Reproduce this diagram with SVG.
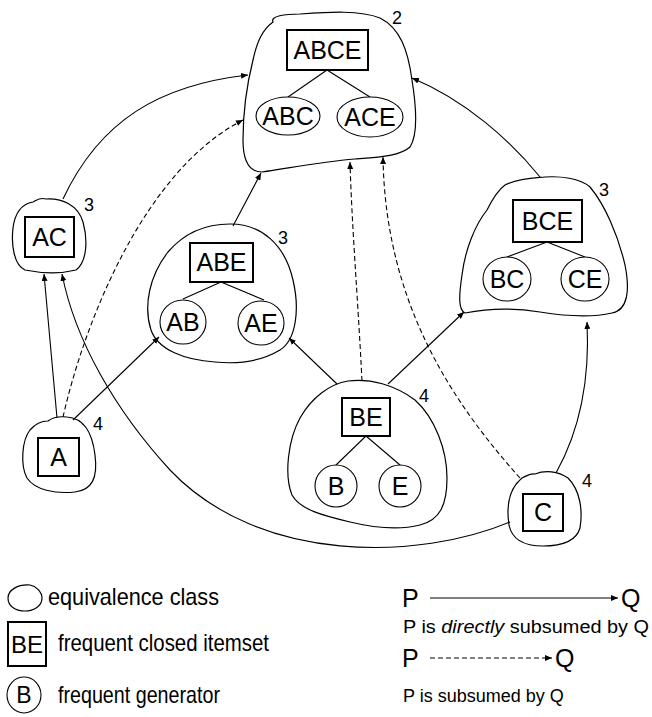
<svg xmlns="http://www.w3.org/2000/svg" width="652" height="717" viewBox="0 0 652 717">
<defs>
<marker id="ah" markerUnits="userSpaceOnUse" markerWidth="8" markerHeight="6" refX="7" refY="3" orient="auto">
<path d="M0,0 L7,3 L0,6 Z" fill="#000"/>
</marker>
<style>
.blob{fill:none;stroke:#000;stroke-width:1.2}
.box{fill:#fff;stroke:#000;stroke-width:2}
.gen{fill:#fff;stroke:#000;stroke-width:1.1}
.tree{stroke:#000;stroke-width:1.1;fill:none}
.lbl{font-family:"Liberation Sans",Arial,sans-serif;font-size:25px;text-anchor:middle;fill:#000}
.cnt{font-family:"Liberation Sans",Arial,sans-serif;font-size:18px;fill:#000}
.leg{font-family:"Liberation Sans",Arial,sans-serif;font-size:24px;fill:#000}
.small{font-family:"Liberation Sans",Arial,sans-serif;font-size:18px;fill:#000}
.c{fill:none;stroke:#000;stroke-width:1.1;marker-end:url(#ah)}
.d{stroke-dasharray:5,3}
</style>
</defs>
<rect width="652" height="717" fill="#fff"/>

<g id="connectors">
<path class="c" d="M63,199 C100,120 160,85 248,75"/>
<path class="c d" d="M63,417 C85,320 145,170 243,120"/>
<path class="c" d="M57,418 L44,274"/>
<path class="c" d="M510,522 C420,560 260,565 170,470 C115,410 75,340 62,274"/>
<path class="c" d="M73,420 L159,337"/>
<path class="c" d="M233,226 L261,173"/>
<path class="c" d="M337,384 L289,338"/>
<path class="c d" d="M362,381 C358,300 352,230 350,162"/>
<path class="c" d="M388,384 L464,312"/>
<path class="c d" d="M520,478 C450,400 385,300 383,157"/>
<path class="c" d="M556,473 C580,430 590,380 587,322"/>
<path class="c" d="M540,177 C510,140 465,100 412,78"/>
</g>

<g id="ABCE">
<path class="blob" d="M273,22 C270,16 285,14 300,14 C330,12 360,10 380,18 C400,28 408,50 412,80 C416,105 418,135 410,147 C400,156 380,157 355,159 C320,162 290,168 262,172 C248,172 243,160 243,140 C243,110 248,80 253,60 C257,42 262,30 273,22 Z"/>
<line class="tree" x1="327" y1="70" x2="288" y2="97"/>
<line class="tree" x1="327" y1="70" x2="370" y2="97"/>
<rect class="box" x="287" y="30" width="81" height="40"/>
<text class="lbl" x="327.5" y="59">ABCE</text>
<ellipse class="gen" cx="288" cy="116" rx="32" ry="19"/>
<text class="lbl" x="288" y="125">ABC</text>
<ellipse class="gen" cx="370" cy="117" rx="33" ry="20"/>
<text class="lbl" x="370" y="126">ACE</text>
<text class="cnt" x="392" y="24">2</text>
</g>

<g id="AC">
<path class="blob" d="M33,202 C37,200 40,197 46,199 C62,198 78,205 83,222 C88,240 87,262 76,270 C60,274 40,273 25,270 C14,265 11,245 13,228 C15,212 22,204 33,202 Z"/>
<rect class="box" x="25" y="217" width="49" height="40"/>
<text class="lbl" x="49.5" y="246">AC</text>
<text class="cnt" x="84" y="211">3</text>
</g>

<g id="ABE">
<path class="blob" d="M230,224 C262,224 285,245 293,280 C300,310 296,340 280,350 C260,362 235,364 215,362 C185,360 158,350 151,330 C143,305 150,275 168,252 C185,232 205,224 230,224 Z"/>
<line class="tree" x1="221" y1="282" x2="183" y2="299"/>
<line class="tree" x1="221" y1="282" x2="264" y2="300"/>
<rect class="box" x="190" y="243" width="63" height="39"/>
<text class="lbl" x="221.5" y="271">ABE</text>
<ellipse class="gen" cx="183" cy="322" rx="23" ry="22"/>
<text class="lbl" x="183" y="331">AB</text>
<ellipse class="gen" cx="261" cy="323" rx="23" ry="22"/>
<text class="lbl" x="261" y="332">AE</text>
<text class="cnt" x="278" y="244">3</text>
</g>

<g id="BCE">
<path class="blob" d="M505,185 C520,178 535,178 545,177 C560,176 580,178 590,187 C605,205 618,235 625,265 C630,290 628,310 612,313 C590,318 565,316 540,312 C515,308 490,308 465,313 C458,310 459,295 462,275 C465,250 475,225 487,210 C493,198 498,190 505,185 Z"/>
<line class="tree" x1="547" y1="242" x2="507" y2="257"/>
<line class="tree" x1="547" y1="242" x2="585" y2="257"/>
<rect class="box" x="513" y="200" width="69" height="42"/>
<text class="lbl" x="547.5" y="230">BCE</text>
<ellipse class="gen" cx="507" cy="279" rx="24" ry="22"/>
<text class="lbl" x="507" y="288">BC</text>
<ellipse class="gen" cx="585" cy="279" rx="24" ry="22"/>
<text class="lbl" x="585" y="288">CE</text>
<text class="cnt" x="599" y="196">3</text>
</g>

<g id="A">
<path class="blob" d="M48,421 C52,418 58,416 67,417 C82,418 92,430 95,455 C98,478 92,490 75,492 C55,494 35,490 27,478 C20,465 22,440 30,430 C36,423 42,421 48,421 Z"/>
<rect class="box" x="38" y="438" width="41" height="38"/>
<text class="lbl" x="58.5" y="466">A</text>
<text class="cnt" x="93" y="430">4</text>
</g>

<g id="BE">
<path class="blob" d="M348,381 C370,378 395,385 415,400 C435,418 447,450 447,478 C447,505 440,520 420,525 C400,530 375,528 350,522 C325,516 300,510 292,495 C284,475 288,440 300,418 C312,397 330,384 348,381 Z"/>
<line class="tree" x1="366" y1="436" x2="336" y2="465"/>
<line class="tree" x1="366" y1="436" x2="400" y2="465"/>
<rect class="box" x="342" y="398" width="48" height="38"/>
<text class="lbl" x="366" y="426">BE</text>
<ellipse class="gen" cx="336" cy="486" rx="21" ry="21"/>
<text class="lbl" x="336" y="495">B</text>
<ellipse class="gen" cx="400" cy="486" rx="21" ry="21"/>
<text class="lbl" x="400" y="495">E</text>
<text class="cnt" x="419" y="402">4</text>
</g>

<g id="C">
<path class="blob" d="M522,478 C527,476 530,473 535,474 C545,470 558,471 568,478 C580,490 583,510 580,528 C576,542 560,546 543,546 C525,546 512,540 509,525 C506,505 510,488 522,478 Z"/>
<rect class="box" x="523" y="494" width="40" height="37"/>
<text class="lbl" x="543" y="521">C</text>
<text class="cnt" x="582" y="487">4</text>
</g>

<g id="legend">
<path class="blob" d="M30,585 C36,586 42,592 42,598 C42,606 34,611 25,611 C15,611 8,606 8,598 C8,590 18,584 30,585 Z"/>
<text class="leg" x="48" y="605" textLength="171" lengthAdjust="spacingAndGlyphs">equivalence class</text>
<rect class="box" x="8" y="622" width="38" height="44"/>
<text class="lbl" x="27" y="653" style="font-size:24px">BE</text>
<text class="leg" x="58" y="651" textLength="211" lengthAdjust="spacingAndGlyphs">frequent closed itemset</text>
<ellipse class="gen" cx="24" cy="695" rx="17" ry="18"/>
<text class="lbl" x="24" y="703" style="font-size:23px">B</text>
<text class="leg" x="58" y="703" textLength="162" lengthAdjust="spacingAndGlyphs">frequent generator</text>
<text class="leg" x="402" y="607" style="font-size:25px">P</text>
<line class="c" x1="430" y1="598" x2="618" y2="598"/>
<text class="leg" x="621" y="607" style="font-size:25px">Q</text>
<text class="small" x="403" y="633" textLength="246" lengthAdjust="spacingAndGlyphs">P is <tspan font-style="italic">directly</tspan> subsumed by Q</text>
<text class="leg" x="402" y="667" style="font-size:25px">P</text>
<line class="c d" x1="430" y1="658" x2="552" y2="658"/>
<text class="leg" x="555" y="667" style="font-size:25px">Q</text>
<text class="small" x="403" y="702">P is subsumed by Q</text>
</g>
</svg>
